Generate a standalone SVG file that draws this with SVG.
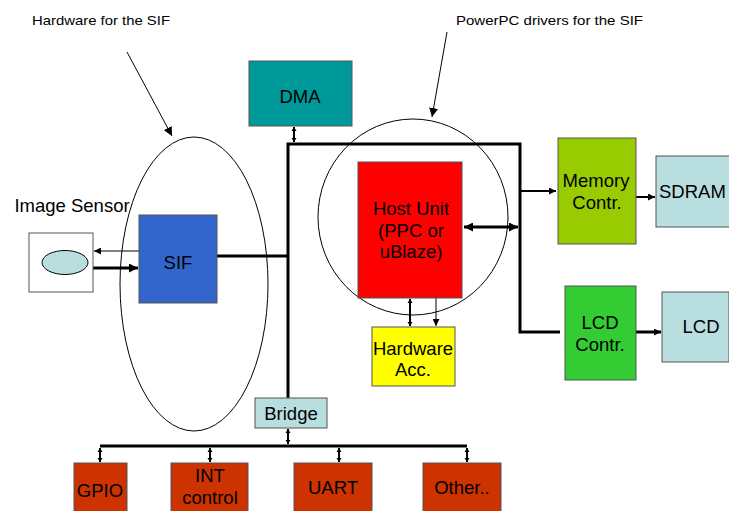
<svg xmlns="http://www.w3.org/2000/svg" width="729" height="511" viewBox="0 0 729 511">
<style>
text{font-family:"Liberation Sans",Arial,sans-serif;font-size:18.5px;fill:#000;text-anchor:middle}
.note{font-size:13px;text-anchor:start}
.box{stroke:#555;stroke-width:1}
.thick{stroke:#000;stroke-width:3;fill:none}
.med{stroke:#000;stroke-width:2;fill:none}
.thin{stroke:#000;stroke-width:1;fill:none}
</style>
<defs>
<marker id="a" viewBox="0 0 10 10" refX="10" refY="5" markerWidth="9" markerHeight="9" orient="auto-start-reverse" markerUnits="userSpaceOnUse"><path d="M0,0L10,5L0,10z" fill="#000"/></marker>
<marker id="as" viewBox="0 0 10 10" refX="10" refY="5" markerWidth="7" markerHeight="7" orient="auto-start-reverse" markerUnits="userSpaceOnUse"><path d="M0,0L10,5L0,10z" fill="#000"/></marker>
<marker id="ad" viewBox="0 0 8 10" refX="8" refY="5" markerWidth="4.5" markerHeight="5.6" orient="auto-start-reverse" markerUnits="userSpaceOnUse"><path d="M0,0L8,5L0,10z" fill="#000"/></marker>
</defs>
<g id="annotations">
<text class="note" x="32" y="25" textLength="138" lengthAdjust="spacingAndGlyphs">Hardware for the SIF</text>
<line class="thin" x1="127" y1="52" x2="172" y2="136" marker-end="url(#a)"/>
<text class="note" x="456" y="25" textLength="187" lengthAdjust="spacingAndGlyphs">PowerPC drivers for the SIF</text>
<line class="thin" x1="447" y1="32" x2="432" y2="117" marker-end="url(#a)"/>
<ellipse cx="194" cy="284" rx="74" ry="147" fill="none" stroke="#000" stroke-width="1"/>
<ellipse cx="413" cy="217" rx="95" ry="98" fill="none" stroke="#000" stroke-width="1"/>
</g>
<g id="connectors">
<polyline class="thick" points="288,398 288,144 520,144 520,332 560,332"/>
<line class="thick" x1="217" y1="256" x2="288" y2="256"/>
<line class="med" x1="294" y1="127" x2="294" y2="142" marker-start="url(#ad)" marker-end="url(#ad)"/>
<line class="med" x1="520" y1="191" x2="556" y2="191" marker-end="url(#as)"/>
<line class="thick" x1="464" y1="227" x2="518" y2="227" marker-start="url(#a)" marker-end="url(#a)"/>
<line class="med" x1="410" y1="299" x2="410" y2="326" marker-start="url(#ad)" marker-end="url(#ad)"/>
<line class="thin" x1="436" y1="298" x2="436" y2="326" marker-end="url(#as)"/>
<line class="thin" x1="139" y1="251" x2="94" y2="251" marker-end="url(#as)"/>
<line class="thick" x1="93" y1="268" x2="138" y2="268" marker-end="url(#a)"/>
<line class="med" x1="636" y1="197" x2="655" y2="197" marker-end="url(#as)"/>
<line class="thick" x1="636" y1="332" x2="661" y2="332" marker-end="url(#as)"/>
<line class="med" x1="288" y1="429" x2="288" y2="444" marker-start="url(#ad)" marker-end="url(#ad)"/>
<line class="thick" x1="100" y1="446" x2="467" y2="446"/>
<line class="med" x1="100" y1="448" x2="100" y2="462" marker-start="url(#ad)" marker-end="url(#ad)"/>
<line class="med" x1="210" y1="448" x2="210" y2="462" marker-start="url(#ad)" marker-end="url(#ad)"/>
<line class="med" x1="339" y1="448" x2="339" y2="462" marker-start="url(#ad)" marker-end="url(#ad)"/>
<line class="med" x1="467" y1="448" x2="467" y2="462" marker-start="url(#ad)" marker-end="url(#ad)"/>
</g>
<g id="sensor">
<rect x="29" y="233" width="64" height="59" fill="#fff" stroke="#555"/>
<ellipse cx="65" cy="262.5" rx="23" ry="12" fill="#B8DEE0" stroke="#000"/>
<text x="72" y="212">Image Sensor</text>
</g>
<g id="sif"><rect class="box" x="139" y="215" width="78" height="88" fill="#3366CC"/><text x="178" y="269">SIF</text></g>
<g id="dma"><rect class="box" x="249" y="61" width="103" height="65" fill="#009999"/><text x="300" y="103">DMA</text></g>
<g id="host"><rect class="box" x="358" y="162" width="104" height="136" fill="#FF0000"/><text x="411" y="215">Host Unit</text><text x="411" y="237">(PPC or</text><text x="411" y="258">uBlaze)</text></g>
<g id="hwacc"><rect class="box" x="372" y="327" width="83" height="59" fill="#FFFF00"/><text x="413" y="355">Hardware</text><text x="413" y="376">Acc.</text></g>
<g id="memctrl"><rect class="box" x="558" y="138" width="78" height="106" fill="#99CC00"/><text x="596" y="187">Memory</text><text x="597" y="209">Contr.</text></g>
<g id="sdram"><rect class="box" x="656" y="156" width="80" height="71" fill="#B8DEE0"/><text x="659" y="198" style="text-anchor:start">SDRAM</text></g>
<g id="lcdctrl"><rect class="box" x="565" y="286" width="71" height="94" fill="#33CC33"/><text x="600" y="329">LCD</text><text x="600" y="351">Contr.</text></g>
<g id="lcd"><rect class="box" x="662" y="292" width="67" height="70" fill="#B8DEE0"/><text x="701" y="333">LCD</text></g>
<g id="bridge"><rect class="box" x="255" y="398" width="72" height="30" fill="#B8DEE0"/><text x="291" y="420">Bridge</text></g>
<g id="gpio"><rect class="box" x="74" y="463" width="53" height="52" fill="#CC3300"/><text x="100" y="497">GPIO</text></g>
<g id="intc"><rect class="box" x="171" y="463" width="77" height="52" fill="#CC3300"/><text x="210" y="482">INT</text><text x="210" y="504">control</text></g>
<g id="uart"><rect class="box" x="294" y="463" width="78" height="52" fill="#CC3300"/><text x="333" y="494">UART</text></g>
<g id="other"><rect class="box" x="423" y="463" width="78" height="52" fill="#CC3300"/><text x="462" y="494">Other..</text></g>
</svg>
